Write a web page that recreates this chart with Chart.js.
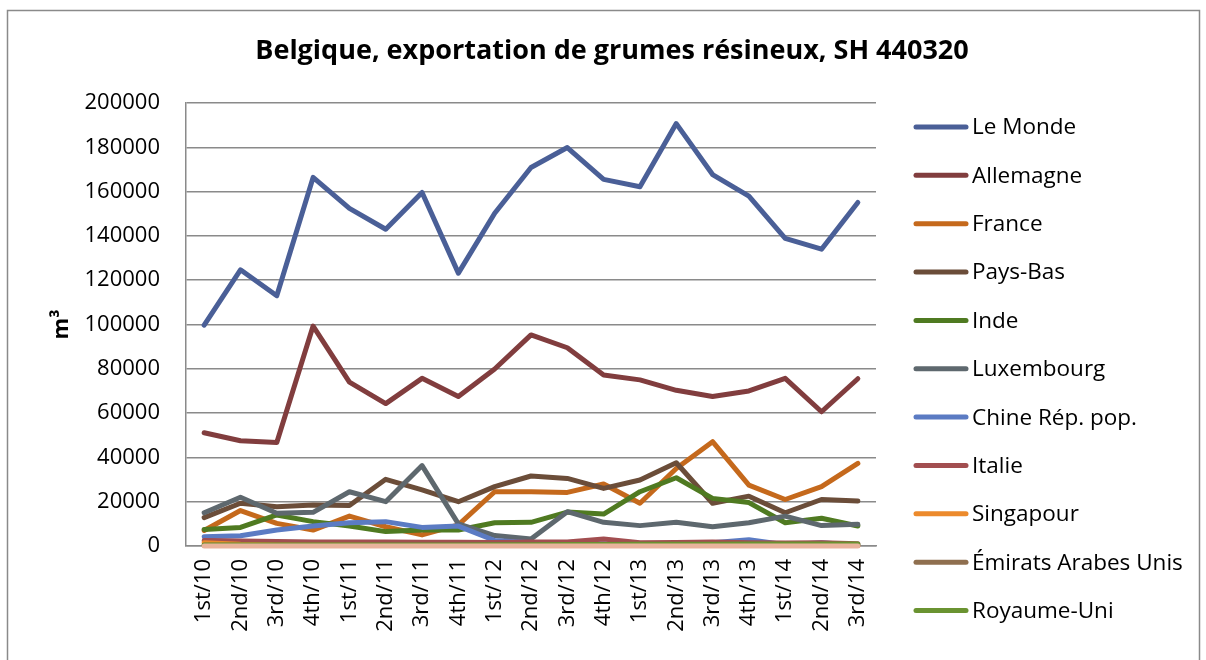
<!DOCTYPE html>
<html>
<head>
<meta charset="utf-8">
<script src="https://cdn.jsdelivr.net/npm/chart.js@4.4.1/dist/chart.umd.min.js"></script>
<style>
  html, body { margin: 0; padding: 0; background: #fff; }
  #wrap { position: relative; width: 1206px; height: 660px; }
</style>
</head>
<body>
<div id="wrap"><canvas id="c"></canvas></div>
<script>
const chartTitle = 'Belgique, exportation de grumes résineux, SH 440320';
const yAxisTitle = 'm³';
const categories = ['1st/10','2nd/10','3rd/10','4th/10','1st/11','2nd/11','3rd/11','4th/11','1st/12','2nd/12','3rd/12','4th/12','1st/13','2nd/13','3rd/13','4th/13','1st/14','2nd/14','3rd/14'];
const yTicks = [0, 20000, 40000, 60000, 80000, 100000, 120000, 140000, 160000, 180000, 200000];

const seriesNames = ['Le Monde','Allemagne','France','Pays-Bas','Inde','Luxembourg','Chine Rép. pop.','Italie','Singapour','Émirats Arabes Unis','Royaume-Uni','Autres'];

const leMonde    = [99700,124700,113000,166400,152400,143000,159600,123200,150200,170900,179900,165500,162200,190700,167700,158000,138900,134000,155100];
const allemagne  = [51100,47500,46700,99300,74000,64300,75700,67500,79900,95300,89500,77200,75000,70300,67500,70000,75700,60600,75500];
const france     = [7000,16000,10200,7200,13500,8700,5000,9500,24500,24500,24200,28000,19300,35000,47100,27500,21000,26800,37300];
const paysBas    = [12800,19300,17700,18500,18300,30100,25300,20000,26800,31600,30500,26000,29800,37600,19300,22500,15000,21000,20300];
const inde       = [7500,8400,14000,11000,9000,6500,7200,7200,10500,10700,15300,14400,24500,30800,21500,19600,10500,12500,9000];
const luxembourg = [15000,22000,14800,15200,24500,20000,36300,10000,4700,3200,15500,10700,9200,10700,8700,10500,13500,9200,9800];
const chine      = [4200,4600,7200,9000,10500,11000,8400,9000,2500,1500,1000,1000,600,1000,1500,2800,600,1500,300];
const italie     = [2500,2300,2000,1800,1800,1800,1700,1700,1600,1800,1800,3200,1500,1600,1800,1500,1300,1500,1000];
const singapour  = [1500,800,500,300,300,200,200,200,200,200,200,200,200,200,200,200,200,200,200];
const emirats    = [300,300,300,300,300,300,300,300,300,300,300,300,300,300,300,300,300,300,300];
const royaumeUni = [500,500,500,500,500,500,500,500,600,600,700,700,800,800,800,900,900,900,900];
const autres     = [0,0,0,0,0,0,0,0,0,0,0,0,0,0,0,0,0,0,0];

const seriesValues = [leMonde, allemagne, france, paysBas, inde, luxembourg, chine, italie, singapour, emirats, royaumeUni, autres];
const seriesColors = ['#4A5F97','#813D3E','#C5691C','#6B4D39','#4F7A21','#5E686E','#5B7BC3','#A24E50','#EC8A2C','#8F6F4F','#6A9331','#E9B39C'];
const legendCount = 11;

const FONT = '"Open Sans", Lato, sans-serif';

const datasets = seriesValues.map((vals, i) => ({
  label: seriesNames[i],
  data: vals,
  borderColor: seriesColors[i],
  backgroundColor: seriesColors[i],
  borderWidth: 5,
  pointRadius: 0,
  pointHoverRadius: 0,
  tension: 0,
  fill: false,
  clip: false,
  borderCapStyle: 'round',
  borderJoinStyle: 'round',
  order: seriesValues.length - i
}));

const decor = {
  id: 'decor',
  beforeDraw(chart) {
    const ctx = chart.ctx;
    ctx.save();
    ctx.fillStyle = '#ffffff';
    ctx.fillRect(0, 0, chart.width, chart.height);
    ctx.strokeStyle = '#8a8a8a';
    ctx.lineWidth = 1.5;
    ctx.strokeRect(7.5, 10.5, 1192, 680);
    ctx.restore();
  },
  afterDraw(chart) {
    const ctx = chart.ctx;
    ctx.save();
    ctx.fillStyle = '#000';
    ctx.font = 'bold 27px ' + FONT;
    ctx.textAlign = 'center';
    ctx.textBaseline = 'middle';
    ctx.fillText(chartTitle, 612, 51);

    ctx.font = '22.5px ' + FONT;
    ctx.textAlign = 'left';
    for (let i = 0; i < legendCount; i++) {
      const y = 127 + i * 48.35;
      ctx.strokeStyle = seriesColors[i];
      ctx.lineWidth = 5;
      ctx.lineCap = 'round';
      ctx.beginPath();
      ctx.moveTo(916, y);
      ctx.lineTo(966, y);
      ctx.stroke();
      ctx.fillStyle = '#000';
      ctx.fillText(seriesNames[i], 972, y + 1);
    }
    ctx.restore();
  }
};

new Chart(document.getElementById('c'), {
  type: 'line',
  data: { labels: categories, datasets },
  plugins: [decor],
  options: {
    responsive: true,
    maintainAspectRatio: false,
    animation: false,
    events: [],
    layout: { padding: { top: 103, left: 40, right: 330, bottom: 0 } },
    plugins: {
      legend: { display: false },
      title: { display: false },
      tooltip: { enabled: false }
    },
    scales: {
      x: {
        type: 'category',
        offset: true,
        grid: { display: false, drawTicks: false },
        border: { display: true, color: '#8a8a8a', width: 1.5 },
        ticks: {
          color: '#000',
          font: { family: FONT, size: 22 },
          minRotation: 90,
          maxRotation: 90,
          padding: 13,
          autoSkip: false
        },
        afterFit(scale) { scale.height = 114; }
      },
      y: {
        min: 0,
        max: 200000,
        afterBuildTicks(scale) { scale.ticks = yTicks.map(v => ({ value: v })); },
        grid: { color: '#8a8a8a', lineWidth: 1.5, drawTicks: false },
        border: { display: true, color: '#8a8a8a', width: 1.5 },
        ticks: {
          color: '#000',
          font: { family: FONT, size: 22 },
          padding: 26,
          callback: v => String(v)
        },
        title: {
          display: true,
          text: yAxisTitle,
          color: '#000',
          font: { family: FONT, size: 22, weight: 'bold' },
          padding: { top: 9, bottom: 0 }
        },
        afterFit(scale) { scale.width = 146; }
      }
    }
  }
});
</script>
</body>
</html>
